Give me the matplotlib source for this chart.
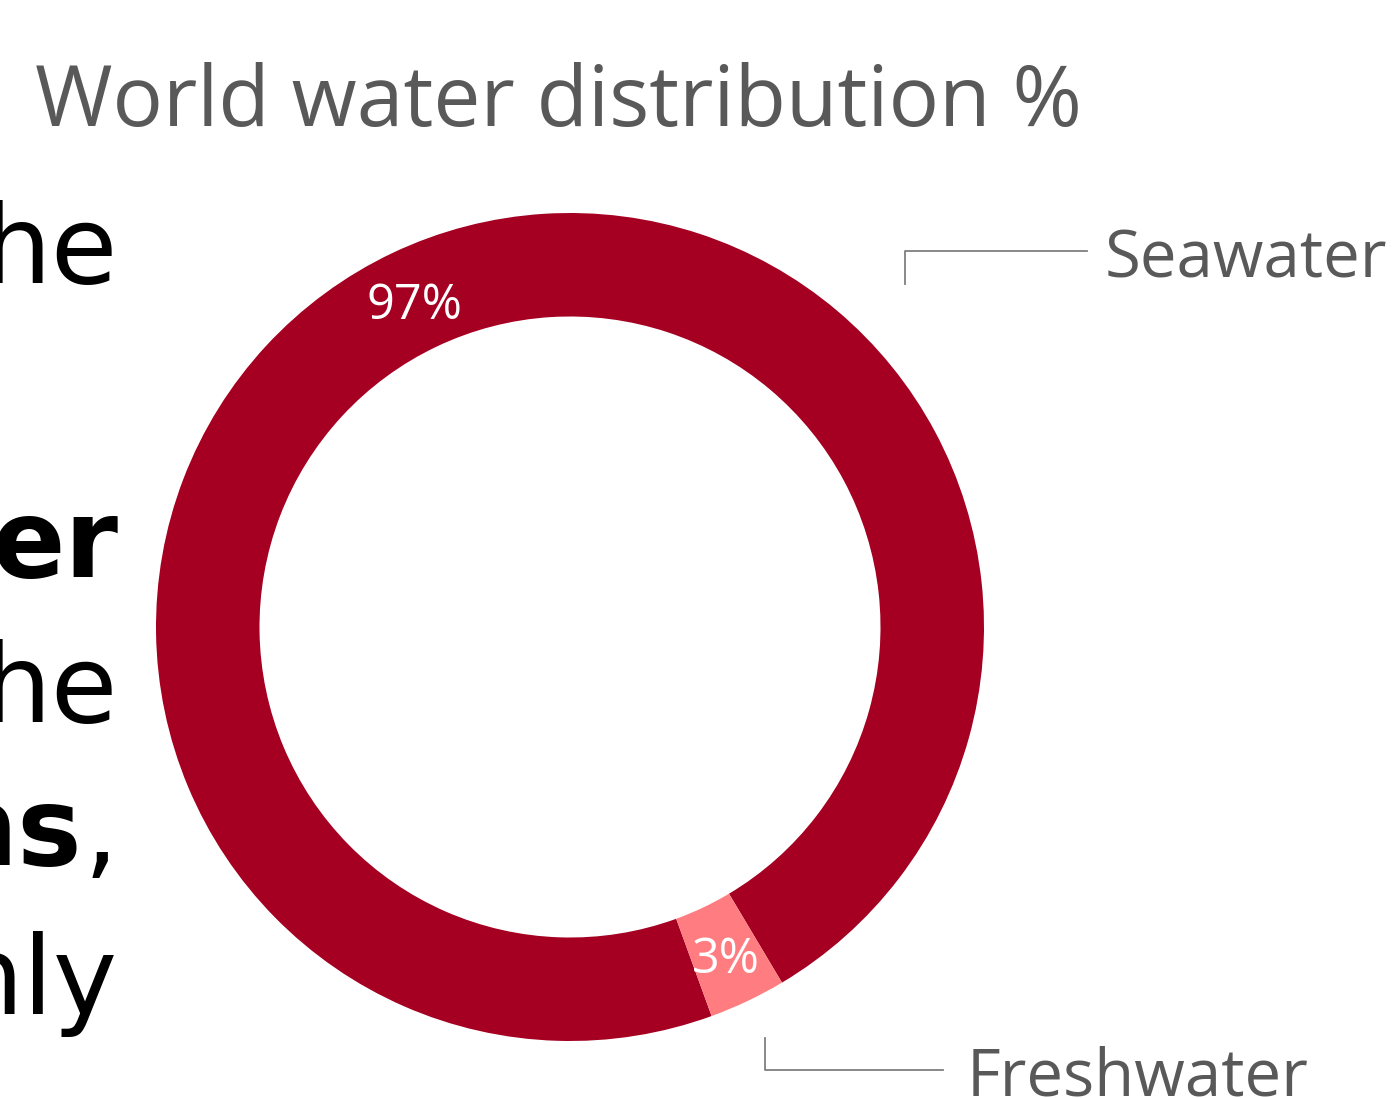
import matplotlib.pyplot as plt

categories = ["Seawater", "Freshwater"]
shares = [97, 3]
colors = ["#A50021", "#FF7C80"]
title = "World water distribution %"
# bits of slide text cut off at the left edge: (text, bold)
side_lines = [[("he", False)], [("er", True)], [("he", False)],
              [("ns", True), (",", False)], [("nly", False)]]

W, H = 1392, 1098
fig = plt.figure(figsize=(W / 100, H / 100), dpi=100)

cx, cy, r = 570, 627, 414
ax = fig.add_axes([(cx - r) / W, (H - cy - r) / H, 2 * r / W, 2 * r / H])
wedges, texts, pcts = ax.pie(
    shares, colors=colors, startangle=-70, counterclock=False,
    radius=1, autopct=lambda p: "%d%%" % round(p), pctdistance=0.875,
    wedgeprops=dict(width=0.25, edgecolor="none"),
    textprops=dict(color="white", fontsize=35, family="Open Sans"))
for t in pcts:
    t.set_va("center_baseline")
ax.set_xlim(-1, 1)
ax.set_ylim(-1, 1)
ax.set_aspect("auto")
ax.axis("off")

# overlay in pixel coordinates for title, labels and leader lines
ov = fig.add_axes([0, 0, 1, 1], zorder=-1)
ov.set_xlim(0, W)
ov.set_ylim(H, 0)
ov.axis("off")

gray = "#595959"
ov.text(35, 126, title, fontsize=60.5, color=gray, family="Open Sans", va="baseline")

ov.plot([905, 905, 1087], [284, 251, 251], color="#7f7f7f", lw=1.3)
ov.text(1105, 277, categories[0], fontsize=47, color=gray, family="Open Sans", va="baseline")
ov.plot([765, 765, 943], [1038, 1070, 1070], color="#7f7f7f", lw=1.3)
ov.text(967, 1095, categories[1], fontsize=47, color=gray, family="Open Sans", va="baseline")

baselines = [283, 577, 722, 865, 1014]
right_x = [118, 118, 117, 82, 117]
for parts, y, x in zip(side_lines, baselines, right_x):
    s, b = parts[0]
    ov.text(x, y, s, fontsize=78, color="black", family="DejaVu Sans",
            fontweight="bold" if b else "normal", ha="right", va="baseline")
    for s2, b2 in parts[1:]:
        ov.text(x + 2, y, s2, fontsize=78, color="black", family="DejaVu Sans",
                fontweight="bold" if b2 else "normal", ha="left", va="baseline")

fig.savefig("out.png", dpi=100)
